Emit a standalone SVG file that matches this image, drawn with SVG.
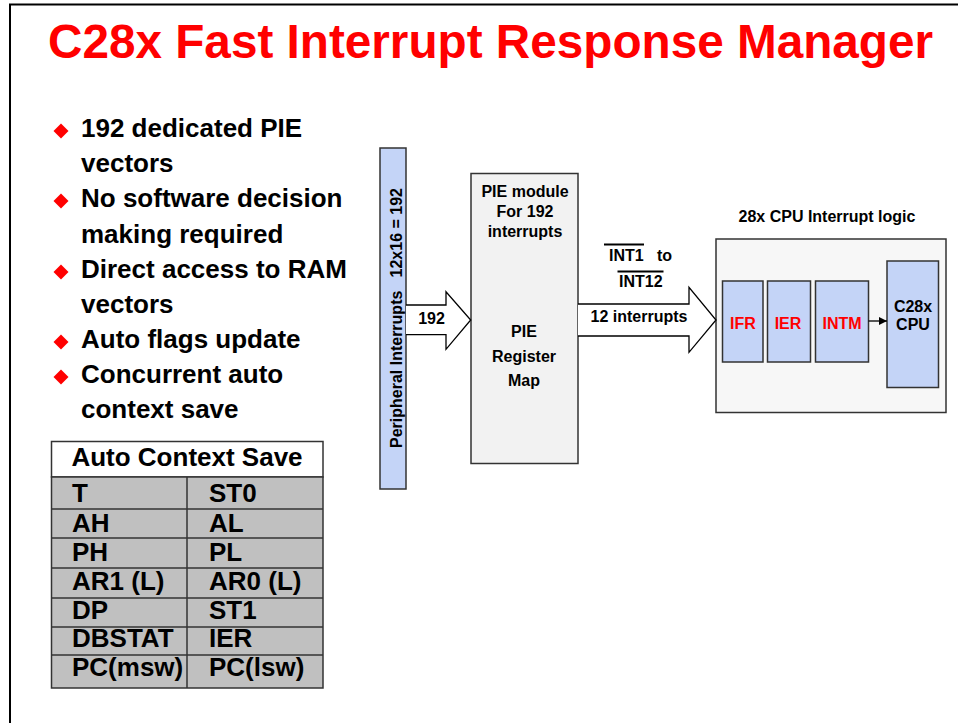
<svg xmlns="http://www.w3.org/2000/svg" width="958" height="723" viewBox="0 0 958 723">
<defs>
<style>
text{font-family:"Liberation Sans",Arial,sans-serif;font-weight:bold;fill:#000}
.title{font-size:48px;fill:#ff0000}
.body{font-size:26px}
.sm{font-size:16px}
.red{fill:#ff0000}
.mid{text-anchor:middle}
.blue{fill:#c4d4f7;stroke:#333;stroke-width:1.5}
.grayrow{fill:#c0c0c0;stroke:#333;stroke-width:1.5}
.blk{fill:#fff;stroke:#000;stroke-width:1.3}
.bul{fill:#ff0000}
.ln{stroke:#333;stroke-width:1.5;fill:none}
</style>
<marker id="ah" viewBox="0 0 10 10" refX="10" refY="5" markerWidth="8" markerHeight="8" markerUnits="userSpaceOnUse" orient="auto">
<path d="M0,0 L10,5 L0,10 z" fill="#000"/>
</marker>
<path id="dia" d="M0,-7.5 L7.5,0 L0,7.5 L-7.5,0 z"/>
</defs>
<rect width="958" height="723" fill="#fff"/>
<path d="M10,723 V4.5 H958" fill="none" stroke="#000" stroke-width="2"/>

<g id="title">
<text class="title" x="48" y="58" textLength="885" lengthAdjust="spacingAndGlyphs">C28x Fast Interrupt Response Manager</text>
</g>

<g id="bullets">
<use href="#dia" x="61" y="131" class="bul"/>
<use href="#dia" x="61" y="201" class="bul"/>
<use href="#dia" x="61" y="272" class="bul"/>
<use href="#dia" x="61" y="342" class="bul"/>
<use href="#dia" x="61" y="377" class="bul"/>
<text class="body" x="81" y="137">192 dedicated PIE</text>
<text class="body" x="81" y="172">vectors</text>
<text class="body" x="81" y="207">No software decision</text>
<text class="body" x="81" y="243">making required</text>
<text class="body" x="81" y="278">Direct access to RAM</text>
<text class="body" x="81" y="313">vectors</text>
<text class="body" x="81" y="348">Auto flags update</text>
<text class="body" x="81" y="383">Concurrent auto</text>
<text class="body" x="81" y="418">context save</text>
</g>

<g id="context-table">
<rect x="51.5" y="441.5" width="271.5" height="35.5" fill="#fff" stroke="#333" stroke-width="1.5"/>
<rect x="51.5" y="477" width="271.5" height="211" class="grayrow"/>
<path class="ln" d="M51.5,509 H323 M51.5,538 H323 M51.5,568 H323 M51.5,598 H323 M51.5,627 H323 M51.5,655 H323 M187,477 V688"/>
<text class="body mid" x="187" y="466">Auto Context Save</text>
<text class="body" x="72" y="502">T</text><text class="body" x="209" y="502">ST0</text>
<text class="body" x="72" y="532">AH</text><text class="body" x="209" y="532">AL</text>
<text class="body" x="72" y="561">PH</text><text class="body" x="209" y="561">PL</text>
<text class="body" x="72" y="590">AR1 (L)</text><text class="body" x="209" y="590">AR0 (L)</text>
<text class="body" x="72" y="619">DP</text><text class="body" x="209" y="619">ST1</text>
<text class="body" x="72" y="647">DBSTAT</text><text class="body" x="209" y="647">IER</text>
<text class="body" x="72" y="676">PC(msw)</text><text class="body" x="209" y="676">PC(lsw)</text>
</g>

<g id="peripheral-interrupts">
<rect x="380" y="148" width="26" height="341" class="blue"/>
<text class="sm" transform="translate(402,448) rotate(-90)">Peripheral Interrupts</text>
<text class="sm" transform="translate(402,188) rotate(-90)" text-anchor="end">12x16 = 192</text>
</g>

<g id="pie-module">
<rect x="471" y="173.5" width="107" height="290" fill="#f2f2f2" stroke="#333" stroke-width="1.5"/>
<text class="sm mid" x="525" y="197">PIE module</text>
<text class="sm mid" x="525" y="217">For 192</text>
<text class="sm mid" x="525" y="237">interrupts</text>
<text class="sm mid" x="524" y="337">PIE</text>
<text class="sm mid" x="524" y="362">Register</text>
<text class="sm mid" x="524" y="386">Map</text>
</g>

<g id="cpu-interrupt-logic">
<text class="sm mid" x="827" y="222">28x CPU Interrupt logic</text>
<rect x="716" y="239" width="230" height="173.5" fill="#f7f7f7" stroke="#333" stroke-width="1.5"/>
</g>
<g id="ifr">
<rect x="722.5" y="281" width="40.5" height="81" class="blue"/>
<text class="sm mid red" x="743" y="329">IFR</text>
</g>
<g id="ier">
<rect x="767.5" y="281" width="43" height="81" class="blue"/>
<text class="sm mid red" x="788" y="329">IER</text>
</g>
<g id="intm">
<rect x="815.5" y="281" width="53" height="81" class="blue"/>
<text class="sm mid red" x="842" y="329">INTM</text>
</g>
<g id="c28x-cpu">
<rect x="887" y="261" width="51.5" height="126.5" class="blue"/>
<text class="sm mid" x="913" y="312">C28x</text>
<text class="sm mid" x="913" y="330">CPU</text>
</g>

<g id="connectors">
<path class="blk" d="M406,305 H446 V291.7 L470.7,320 L446,349.3 V334.7 H406"/>
<text class="sm mid" x="431.5" y="324">192</text>
<path class="blk" d="M578,304 H689 V287.3 L716,320 L689,352.3 V336 H578"/>
<text class="sm mid" x="639" y="322">12 interrupts</text>
<text class="sm" x="609" y="261">INT1</text>
<line x1="604" y1="244.5" x2="644" y2="244.5" stroke="#000" stroke-width="1.8"/>
<text class="sm" x="657" y="261">to</text>
<text class="sm" x="619" y="287">INT12</text>
<line x1="617.5" y1="271.5" x2="663.5" y2="271.5" stroke="#000" stroke-width="1.8"/>
<line x1="868.5" y1="321" x2="887" y2="321" stroke="#000" stroke-width="1.3" marker-end="url(#ah)"/>
</g>
</svg>
